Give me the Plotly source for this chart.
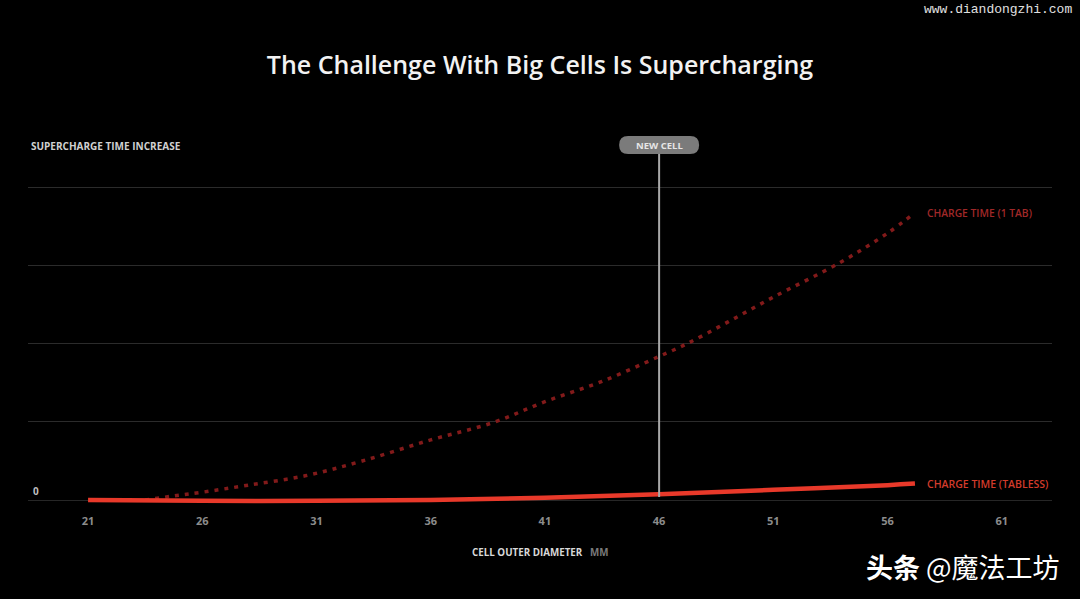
import plotly.graph_objects as go

# cell outer diameter (mm) and relative supercharge time increase
diam_1tab = [23.5, 24.7, 26, 28, 30.5, 33, 36, 38.7, 41, 43.5, 46, 47.2, 49, 51, 53.9, 56, 57.2]
time_1tab = [0.0, 0.05, 0.1, 0.19, 0.31, 0.5, 0.77, 0.99, 1.26, 1.52, 1.84, 2.0, 2.28, 2.6, 3.04, 3.42, 3.68]

diam_tabless = [21, 26, 31, 36, 41, 46, 51, 56, 57.2]
time_tabless = [0.0, -0.01, -0.01, 0.0, 0.03, 0.075, 0.13, 0.19, 0.21]

new_cell = 46
x_ticks = [21, 26, 31, 36, 41, 46, 51, 56, 61]
y_grid = [1, 2, 3, 4]

BG = "#000000"
RED = "#e8392a"
DARK_RED = "#821a1a"
FONT = "Open Sans"

# plot area in pixels
W, H = 1080, 599
L, R, T, B = 28, 28, 184, 94
plot_h = H - T - B
plot_w = W - L - R


def paper_y(px):
    return (H - B - px) / plot_h


def paper_x(px):
    return (px - L) / plot_w


fig = go.Figure()

fig.add_trace(go.Scatter(
    x=diam_1tab, y=time_1tab, mode="lines", line_shape="spline",
    line=dict(color=DARK_RED, width=3.5, dash="4px,6px"),
    hoverinfo="skip", showlegend=False,
))
fig.add_trace(go.Scatter(
    x=diam_tabless, y=time_tabless, mode="lines", line_shape="spline",
    line=dict(color=RED, width=4.5),
    hoverinfo="skip", showlegend=False,
))

# NEW CELL marker line and pill
fig.add_shape(type="line", xref="x", yref="paper", x0=new_cell, x1=new_cell,
              y0=paper_y(497), y1=paper_y(150),
              line=dict(color="#a8a8a8", width=2), layer="above")
fig.add_shape(type="path", xref="x", yref="paper", xsizemode="pixel", ysizemode="pixel",
              xanchor=new_cell, yanchor=paper_y(145),
              path="M -31,-9 L 31,-9 Q 40,-9 40,0 Q 40,9 31,9 L -31,9 Q -40,9 -40,0 Q -40,-9 -31,-9 Z",
              fillcolor="#7b7b7b", line=dict(width=0), layer="above")
fig.add_annotation(x=new_cell, y=paper_y(145), xref="x", yref="paper", yanchor="middle",
                   text="NEW CELL", showarrow=False,
                   font=dict(family=FONT, size=9.5, color="#e6e6e6", weight="bold"))

# series labels
fig.add_annotation(x=diam_1tab[-1], y=time_1tab[-1], text="CHARGE TIME (1 TAB)",
                   showarrow=False, xanchor="left", yanchor="middle", xshift=10,
                   font=dict(family=FONT, size=10.3, color="#a02828", weight=600))
fig.add_annotation(x=diam_tabless[-1], y=time_tabless[-1], text="CHARGE TIME (TABLESS)",
                   showarrow=False, xanchor="left", yanchor="middle", xshift=10,
                   font=dict(family=FONT, size=10.5, color="#d23b2b", weight=600))

# axis labels
fig.add_annotation(x=0, y=paper_y(146), xref="paper", yref="paper", xanchor="left",
                   yanchor="middle", xshift=1, text="SUPERCHARGE TIME INCREASE", showarrow=False,
                   font=dict(family=FONT, size=10, color="#d0d0d0", weight="bold"))
fig.add_annotation(x=0, y=0, xref="paper", yref="y", xanchor="left", yshift=9, xshift=3,
                   text="0", showarrow=False,
                   font=dict(family=FONT, size=10, color="#bdbdbd", weight="bold"))
fig.add_annotation(x=0.5, y=paper_y(552), xref="paper", yref="paper", yanchor="middle",
                   text="CELL OUTER DIAMETER   <span style='color:#7a7a7a'>MM</span>",
                   showarrow=False, font=dict(family=FONT, size=9.8, color="#d8d8d8", weight="bold"))

# watermarks
fig.add_annotation(x=paper_x(1074), y=paper_y(10), xref="paper", yref="paper",
                   text="www.diandongzhi.com", showarrow=False, xanchor="right", yanchor="middle",
                   font=dict(family="Liberation Mono", size=13, color="#e0e0e0"))
fig.add_annotation(x=paper_x(1062), y=paper_y(566), xref="paper", yref="paper",
                   xanchor="right", yanchor="middle",
                   text="<b>头条</b> @魔法工坊", showarrow=False,
                   font=dict(family="Noto Sans CJK SC", size=27, color="#ffffff"))

fig.update_layout(
    width=W, height=H,
    paper_bgcolor=BG, plot_bgcolor=BG,
    margin=dict(l=L, r=R, t=T, b=B),
    title=dict(text="The Challenge With Big Cells Is Supercharging", x=0.5, xanchor="center",
               y=1 - 65 / H, yanchor="middle",
               font=dict(family=FONT, size=25, color="#f2f2f2", weight=600)),
    xaxis=dict(range=[18.37, 63.2], tickvals=x_ticks, showgrid=False, zeroline=False,
               showline=False, ticks="", ticklabelstandoff=8,
               tickfont=dict(family=FONT, size=11, color="#8c8c8c", weight="bold")),
    yaxis=dict(range=[-0.064, 4.05], tickvals=y_grid, showticklabels=False, ticks="",
               showgrid=True, gridcolor="#2b2b2b", gridwidth=1,
               zeroline=True, zerolinecolor="#262626", zerolinewidth=1, showline=False),
)

fig.write_html("out.html", config={"displayModeBar": False},
               post_script="document.body.style.margin='0';")
